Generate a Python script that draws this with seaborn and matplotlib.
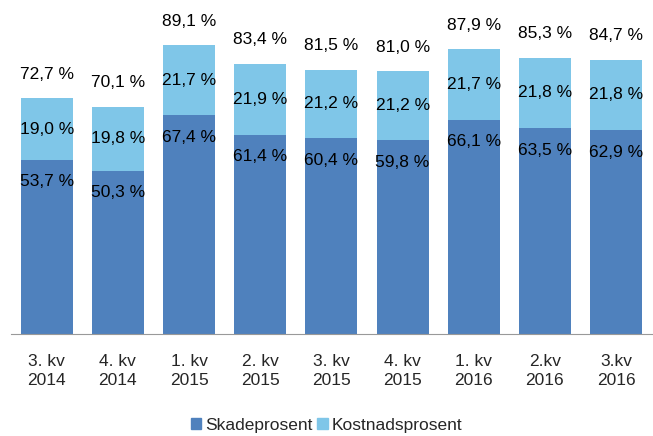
import matplotlib
matplotlib.use("Agg")
import matplotlib.pyplot as plt
import seaborn as sns
from matplotlib.patches import Patch

quarters = ["3. kv\n2014", "4. kv\n2014", "1. kv\n2015", "2. kv\n2015", "3. kv\n2015",
            "4. kv\n2015", "1. kv\n2016", "2.kv\n2016", "3.kv\n2016"]
skade = [53.7, 50.3, 67.4, 61.4, 60.4, 59.8, 66.1, 63.5, 62.9]
kostnad = [19.0, 19.8, 21.7, 21.9, 21.2, 21.2, 21.7, 21.8, 21.8]
totals = [72.7, 70.1, 89.1, 83.4, 81.5, 81.0, 87.9, 85.3, 84.7]

dark = "#4F81BD"
light = "#7FC6E8"

sns.set_style("white")
plt.rcParams["font.family"] = ["Liberation Sans", "DejaVu Sans"]
FS = 12.5


def fmt(v):
    return f"{v:.1f}".replace(".", ",") + " %"


fig = plt.figure(figsize=(6.53, 4.36), dpi=100)
ax = fig.add_axes([0.017, 0.235, 0.981, 0.742])

# stacked: draw the totals in light blue, then the bottom part on top
sns.barplot(x=quarters, y=totals, color=light, width=0.73, saturation=1,
            edgecolor="none", linewidth=0, ax=ax)
sns.barplot(x=quarters, y=skade, color=dark, width=0.73, saturation=1,
            edgecolor="none", linewidth=0, ax=ax)

ax.set_ylim(0, 100)
ax.set_xlim(-0.5, len(quarters) - 0.5)

for i in range(len(quarters)):
    s, k, t = skade[i], kostnad[i], totals[i]
    ax.annotate(fmt(s), (i, s), xytext=(0, -22), textcoords="offset pixels",
                ha="center", va="center", fontsize=FS, color="black")
    ax.text(i, s + k / 2, fmt(k), ha="center", va="center", fontsize=FS, color="black")
    ax.annotate(fmt(t), (i, t), xytext=(0, 24), textcoords="offset pixels",
                ha="center", va="center", fontsize=FS, color="black")

sns.despine(ax=ax, left=True, top=True, right=True)
ax.spines["bottom"].set_color("#999999")
ax.set_yticks([])
ax.set_xticks(range(len(quarters)))
ax.set_xticklabels(quarters, fontsize=FS, linespacing=1.3)
ax.tick_params(axis="x", which="major", length=0, pad=15)
ax.set_xticks([i - 0.5 for i in range(len(quarters) + 1)], minor=True)
ax.tick_params(axis="x", which="minor", length=5, color="#999999", direction="out")

handles = [Patch(color=dark, label="Skadeprosent"), Patch(color=light, label="Kostnadsprosent")]
fig.legend(handles=handles, loc="center", bbox_to_anchor=(0.5, 0.024), ncol=2,
           frameon=False, fontsize=FS, handlelength=0.6, handleheight=0.6,
           handletextpad=0.2, columnspacing=0.3, borderpad=0)

fig.savefig("out.png", dpi=100)
